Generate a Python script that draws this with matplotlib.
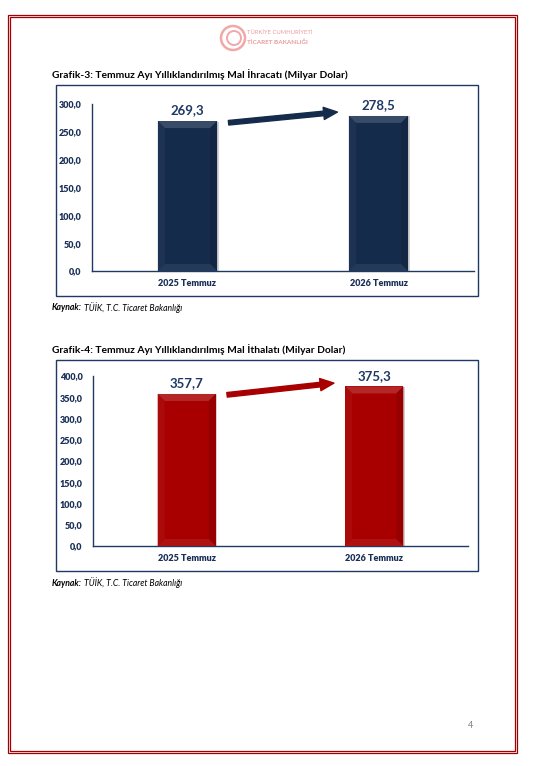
import matplotlib
matplotlib.use("Agg")
import matplotlib.pyplot as plt
from matplotlib.patches import Rectangle, Polygon, Ellipse
import matplotlib.patheffects as pe

# ---------------- data ----------------
categories = ["2025 Temmuz", "2026 Temmuz"]
export_values = [269.3, 278.5]
import_values = [357.7, 375.3]
export_ticks = [0, 50, 100, 150, 200, 250, 300]
import_ticks = [0, 50, 100, 150, 200, 250, 300, 350, 400]
title1 = "Grafik-3: Temmuz Ayı Yıllıklandırılmış Mal İhracatı (Milyar Dolar)"
title2 = "Grafik-4: Temmuz Ayı Yıllıklandırılmış Mal İthalatı (Milyar Dolar)"
source_bold = "Kaynak:"
source_rest = " TÜİK, T.C. Ticaret Bakanlığı"
page_no = "4"

W, H = 533, 766
fig = plt.figure(figsize=(W / 100, H / 100), dpi=100)
fig.patch.set_facecolor("white")
FONT = ["Lato", "DejaVu Sans"]
NAVY = "#1f3864"
BORDER = "#a00000"


def fx(px):
    return px / W


def fy(py):
    return 1 - py / H


def frect(x0, y0, x1, y1, **kw):
    fig.add_artist(Rectangle((fx(x0), fy(y1)), fx(x1) - fx(x0), fy(y0) - fy(y1),
                             transform=fig.transFigure, fill=False, **kw))


# page border (double line)
frect(8, 15, 517, 753, edgecolor=BORDER, lw=0.9)
frect(10, 17, 515, 751, edgecolor=BORDER, lw=0.9)

# logo
fig.add_artist(Ellipse((fx(233), fy(38)), 24 / W, 24 / H, transform=fig.transFigure,
                       fill=False, edgecolor="#f2a8a8", lw=1.8))
fig.add_artist(Ellipse((fx(234), fy(38)), 14 / W, 14 / H, transform=fig.transFigure,
                       fill=False, edgecolor="#f2a8a8", lw=1.4))
fig.text(fx(247), fy(33), "TÜRKİYE CUMHURİYETİ", fontsize=4.2, color="#eb9a9a",
         family=FONT, va="center", ha="left")
fig.text(fx(247), fy(42.5), "TİCARET BAKANLIĞI", fontsize=4.6, color="#eb9a9a",
         family=FONT, fontweight="bold", va="center", ha="left")

fig.text(fx(471), fy(725), page_no, fontsize=6.5, color="#808080", family=FONT,
         ha="center", va="center")


def shade(c, f):
    import matplotlib.colors as mc
    r, g, b = mc.to_rgb(c)
    if f >= 0:
        return (r + (1 - r) * f, g + (1 - g) * f, b + (1 - b) * f)
    f = -f
    return (r * (1 - f), g * (1 - f), b * (1 - f))


def draw_chart(title, values, ticks, color, title_y, frame, axrect, arrow_dy):
    # title
    fig.text(fx(52), fy(title_y), title, fontsize=7.4, fontweight="bold",
             family=FONT, color="black", va="center", ha="left")
    # outer frame
    frect(*frame, edgecolor=NAVY, lw=1.0)
    l, t, r, b = axrect
    ax = fig.add_axes([fx(l), fy(b), fx(r) - fx(l), fy(t) - fy(b)])
    x = list(range(len(values)))
    width = 0.31
    bars = ax.bar(x, values, width=width, color=color, zorder=2,
                  path_effects=[pe.SimplePatchShadow(offset=(1.2, -0.3),
                                                     shadow_rgbFace="#c8c8c8", alpha=0.8),
                                pe.Normal()])
    ax.set_xlim(-0.5, len(values) - 0.5)
    ax.set_ylim(ticks[0], ticks[-1])
    ax.set_yticks(ticks)
    ax.set_yticklabels([f"{v:.1f}".replace(".", ",") for v in ticks])
    ax.set_xticks(x)
    ax.set_xticklabels(categories)
    for s in ["top", "right"]:
        ax.spines[s].set_visible(False)
    for s in ["left", "bottom"]:
        ax.spines[s].set_color(NAVY)
        ax.spines[s].set_linewidth(1.0)
    ax.tick_params(axis="y", length=0, pad=7.5, labelsize=6.5, labelcolor="#1a2f57")
    ax.tick_params(axis="x", length=0, pad=6, labelsize=6.5, labelcolor="#1a2f57")
    for lab in ax.get_yticklabels() + ax.get_xticklabels():
        lab.set_fontweight("heavy")
        lab.set_family(FONT)

    # bevel
    pxx = ax.transData.transform((1, 0))[0] - ax.transData.transform((0, 0))[0]
    pxy = ax.transData.transform((0, 1))[1] - ax.transData.transform((0, 0))[1]
    bev = 7
    dx, dy = bev / pxx, bev / pxy
    for bar in bars:
        x0, w, h = bar.get_x(), bar.get_width(), bar.get_height()
        x1 = x0 + w
        polys = [
            ([(x0, h), (x1, h), (x1 - dx, h - dy), (x0 + dx, h - dy)], shade(color, 0.15)),
            ([(x0, 0), (x0, h), (x0 + dx, h - dy), (x0 + dx, dy)], shade(color, 0.04)),
            ([(x1, 0), (x1, h), (x1 - dx, h - dy), (x1 - dx, dy)], shade(color, -0.1)),
            ([(x0, 0), (x1, 0), (x1 - dx, dy), (x0 + dx, dy)], shade(color, 0.07)),
        ]
        for pts, c in polys:
            ax.add_patch(Polygon(pts, closed=True, facecolor=c, edgecolor="none", zorder=3))
        ax.annotate(f"{h:.1f}".replace(".", ","), (x0 + w / 2, h), xytext=(0, 3.5),
                    textcoords="offset points", ha="center", va="bottom",
                    fontsize=9.5, fontweight="bold", color=NAVY, family=FONT,
                    annotation_clip=False)

    # arrow between bars
    start = (x[0] + width / 2 + 0.06, values[0] + arrow_dy[0])
    end = (x[1] - width / 2 - 0.06, values[1] + arrow_dy[1])
    ax.annotate("", xy=end, xytext=start, annotation_clip=False,
                arrowprops=dict(arrowstyle="simple,head_length=0.9,head_width=0.8,tail_width=0.3",
                                color=color, mutation_scale=11, shrinkA=0, shrinkB=0),
                zorder=4)
    return ax


draw_chart(title1, export_values, export_ticks, "#152b4c", 75,
           (56, 85, 478, 296), (92, 104, 474, 271), (-3, 7))
draw_chart(title2, import_values, import_ticks, "#a80000", 350,
           (56, 360, 478, 571), (93, 376, 468, 546), (-2, 8))

renderer = fig.canvas.get_renderer()
for yy in (308, 583):
    t1 = fig.text(fx(52), fy(yy), source_bold, fontsize=6.2, fontweight="bold",
                  style="italic", family=FONT, va="center", ha="left")
    bb = t1.get_window_extent(renderer)
    fig.text(bb.x1 / W, fy(yy), source_rest, fontsize=6.2, style="italic",
             family=FONT, va="center", ha="left")

fig.savefig("out.png", dpi=100, facecolor="white")
